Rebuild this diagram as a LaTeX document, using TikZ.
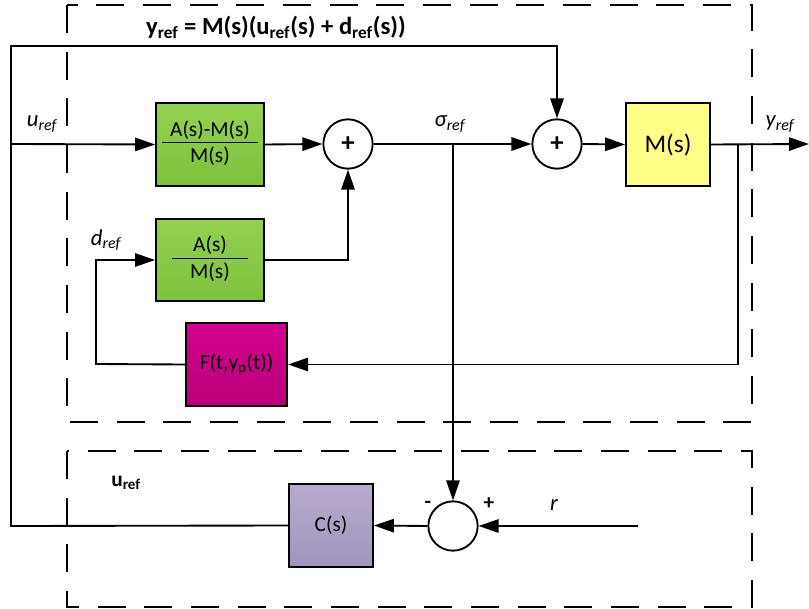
\documentclass[tikz,border=0pt]{standalone}
\usepackage{fontspec}
\setmainfont{Carlito}
\usetikzlibrary{positioning, arrows.meta, calc}
\definecolor{grnTop}{HTML}{94D152}
\definecolor{grnBot}{HTML}{7DC23C}
\definecolor{ylwFill}{HTML}{FFFF88}
\definecolor{magTop}{HTML}{D6008F}
\definecolor{magBot}{HTML}{B80078}
\definecolor{pplTop}{HTML}{B8ABCE}
\definecolor{pplBot}{HTML}{A295BD}
\newcommand{\blkfrac}[3]{%
  \begin{tabular}{@{}c@{}}\makebox[#3]{#1}\\[-1pt]\hline\makebox[#3]{\rule{0pt}{15pt}#2}\end{tabular}}
\newcommand{\sref}[1]{#1\textsubscript{ref}}

\begin{document}
\begin{tikzpicture}[x=0.75pt, y=-0.75pt,
  blk/.style={rectangle, draw=black, line width=1.4pt, inner sep=0pt,
              minimum width=63pt, minimum height=62pt,
              font=\fontsize{16}{19}\selectfont, align=center},
  grnblk/.style={blk, minimum width=81pt, top color=grnTop, bottom color=grnBot},
  sumnode/.style={circle, draw=black, line width=1.4pt, inner sep=0pt,
                  minimum size=37pt, fill=white, font=\fontsize{20}{22}\selectfont\bfseries},
  arr/.style={-{Triangle[length=15pt, width=10pt]}, line width=1.4pt},
  grp/.style={line width=1.4pt, dash pattern=on 21pt off 14pt},
  lbl/.style={font=\fontsize{17}{20}\selectfont\itshape, inner sep=1pt}
]
\useasboundingbox (0,0) rectangle (809,609);

% group frames
\draw[grp] (67,5) rectangle (752,422);
\draw[grp] (67,451) rectangle (752,607);

% blocks
\node[grnblk] (blkA) at (210,144.5) {\blkfrac{A(s)-M(s)}{M(s)}{72pt}};
\node[grnblk] (blkB) at (210,260) {\blkfrac{A(s)}{M(s)}{57pt}};
\node[blk, minimum width=76pt, top color=magTop, bottom color=magBot]
     (blkF) at (236.5,364.5) {F(t,y\textsubscript{p}(t))};
\node[blk, fill=ylwFill, font=\fontsize{19}{22}\selectfont] (blkM) at (668,144.5) {M(s)};
\node[blk, top color=pplTop, bottom color=pplBot] (blkC) at (331,525.5) {C(s)};

% summing junctions
\node[sumnode] (sumA) at (348,144) {+};
\node[sumnode] (sumB) at (557,144) {+};
\node[sumnode] (sumC) at (453,526) {};

% wire points
\coordinate (uin) at (11,144);
\coordinate (ltop) at (11,46);
\coordinate (lbot) at (11,526);
\coordinate (yout) at (809,144);
\coordinate (ybr) at (738,144);
\coordinate (dl) at (96,364);
\coordinate (sbr) at (453,144);
\coordinate (rin) at (638,526);

% connections
\draw[arr] (uin) -- (blkA.west);
\draw[arr] (blkA.east) -- (sumA.west);
\draw[arr] (sumA.east) -- (sumB.west);
\draw[arr] (sumB.east) -- (blkM.west);
\draw[arr] (blkM.east) -- (yout);
\draw[arr] (ybr) |- (blkF.east);
\draw[arr] (blkF.west) -- (dl) |- (blkB.west);
\draw[arr] (blkB.east) -| (sumA.south);
\draw[arr] (sbr) -- (sumC.north);
\draw[arr] (rin) -- (sumC.east);
\draw[arr] (sumC.west) -- (blkC.east);
\draw[arr] (blkC.west) -- (lbot) -- (ltop) -| (sumB.north);

% labels
\node[font=\fontsize{18.5}{22}\selectfont\bfseries] (eq) at (276,27)
     {\sref{y} = M(s)(\sref{u}(s) + \sref{d}(s))};
\node[lbl] (luref) at (42,124) {\sref{u}};
\node[lbl] (lsig) at (450,124) {\sref{σ}};
\node[lbl] (lyref) at (780,124) {\sref{y}};
\node[lbl] (ldref) at (106,240) {\sref{d}};
\node[font=\fontsize{16}{19}\selectfont\bfseries] (luc) at (126,483) {\sref{u}};
\node[font=\fontsize{16}{19}\selectfont\bfseries] (lminus) at (428,505) {-};
\node[font=\fontsize{16}{19}\selectfont\bfseries] (lplus) at (489,504) {+};
\node[lbl] (lr) at (554,505) {r};
\end{tikzpicture}
\end{document}
